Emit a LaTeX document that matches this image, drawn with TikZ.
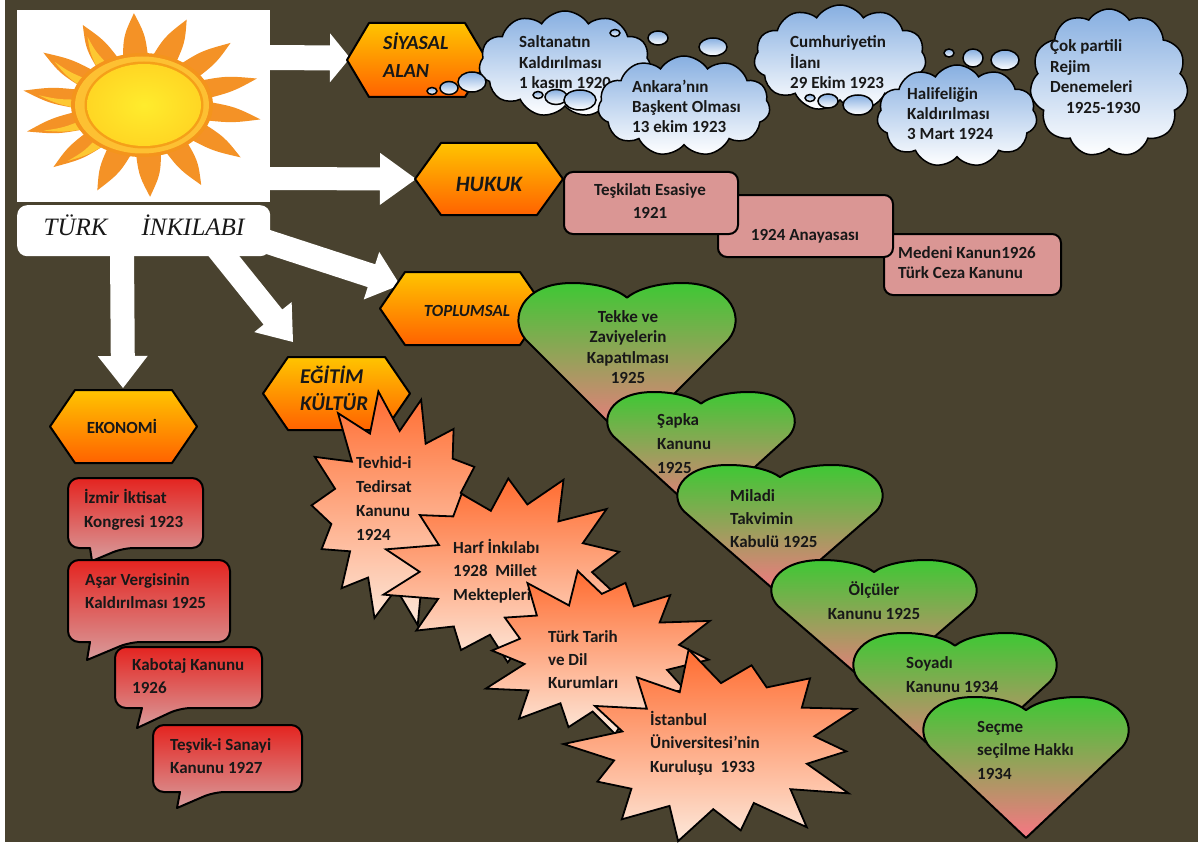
\documentclass[tikz,border=0pt]{standalone}
\usepackage{fontspec}
\setmainfont{Carlito}
\newfontfamily\titlef{Liberation Serif}
\usetikzlibrary{calc,shapes.symbols}

\definecolor{bgolive}{RGB}{73,66,47}
\definecolor{txt}{RGB}{24,24,24}
\definecolor{hexTop}{RGB}{255,196,0}
\definecolor{hexBot}{RGB}{255,98,0}
\definecolor{cloudTop}{RGB}{135,175,225}
\definecolor{lawPink}{RGB}{218,150,148}
\definecolor{heartTop}{RGB}{62,200,52}
\definecolor{heartBot}{RGB}{248,118,132}
\definecolor{starTop}{RGB}{255,108,48}
\definecolor{starBot}{RGB}{253,232,218}
\definecolor{econTop}{RGB}{228,36,32}
\definecolor{econBot}{RGB}{216,156,156}
\definecolor{rayOr}{RGB}{244,146,38}
\definecolor{rayYel}{RGB}{253,200,50}
\definecolor{sunRing}{RGB}{244,148,28}
\definecolor{sunBand}{RGB}{253,192,50}
\definecolor{sunLine}{RGB}{245,160,25}
\definecolor{sunCore}{RGB}{255,236,45}
\definecolor{sunEdge}{RGB}{255,178,20}

\pgfdeclareradialshading{sunglow}{\pgfpoint{0bp}{0bp}}{color(0bp)=(sunCore); color(30bp)=(sunCore!55!sunEdge); color(50bp)=(sunEdge)}

\tikzset{
  lbl/.style={font=\bfseries\fontsize{17}{#1}\selectfont, text=txt, inner sep=0pt, anchor=base west},
  lbl/.default=21,
  clb/.style={lbl=#1, anchor=base},
  clb/.default=21,
  hexstyle/.style={draw=black, line width=2pt, line join=round, top color=hexTop, bottom color=hexBot},
  cloudstyle/.style={cloud, cloud puffs=11, cloud puff arc=115, cloud ignores aspect, draw=black, line width=1.5pt, top color=cloudTop, bottom color=white, inner sep=0pt},
  puff/.style={draw=black, line width=1.5pt, top color=cloudTop, bottom color=white},
  lawbox/.style={draw=black, line width=2pt, rounded corners=9pt, fill=lawPink, inner sep=0pt, anchor=north west},
  heartstyle/.style={draw=black, line width=2pt, line join=round, top color=heartTop, bottom color=heartBot},
  starstyle/.style={draw=black, line width=1.8pt, line join=miter, miter limit=8, top color=starTop, bottom color=starBot},
  econstyle/.style={draw=black, line width=2pt, line join=round, top color=econTop, bottom color=econBot},
}

% multi-line text block, first baseline on the anchor
\newcommand{\ml}[2]{\begin{tabular}[t]{@{}#1@{}}#2\end{tabular}}

% white block arrow from #1 to #2: shaft half width, head half width, head length, name
\newcommand{\blockarrow}[6]{%
  \coordinate (#6h) at ($(#2)!#5pt!(#1)$);
  \fill[white] ($(#1)!#3pt!90:(#2)$) -- ($(#6h)!#3pt!-90:(#1)$) -- ($(#6h)!#4pt!-90:(#1)$)
     -- (#2) -- ($(#6h)!#4pt!90:(#1)$) -- ($(#6h)!#3pt!90:(#1)$) -- ($(#1)!#3pt!-90:(#2)$) -- cycle;}

% pointed hexagon: name, left, right, top, bottom, inset
\newcommand{\hexa}[6]{%
  \path[hexstyle] (#2,{(#4+#5)/2}) -- ({#2+#6},#4) -- ({#3-#6},#4) -- (#3,{(#4+#5)/2})
     -- ({#3-#6},#5) -- ({#2+#6},#5) -- cycle;
  \coordinate (#1) at ({(#2+#3)/2},{(#4+#5)/2});}

% heart: name, centre x, top y, half width, height
\newcommand{\heartat}[5]{%
  \begin{scope}[shift={(#2,#3)}, x=#4pt, y=-#5pt]
    \path[heartstyle] (0,1) -- (-0.923,0.357) .. controls (-1.077,0.229) and (-0.962,0) .. (-0.5,0)
      .. controls (-0.288,0) and (-0.096,0.036) .. (0,0.093)
      .. controls (0.096,0.036) and (0.288,0) .. (0.5,0)
      .. controls (0.962,0) and (1.077,0.229) .. (0.923,0.357) -- cycle;
    \coordinate (#1) at (0,0.5);
  \end{scope}}

% irregular fourteen-point burst: name, cx, cy, rx, ry, rotation, seed
\newcommand{\burst}[7]{%
  \begin{scope}[shift={(#2,#3)}]
    \path[starstyle] ({#6}:{#4*(1+0.09*sin(14*#7))} and {#5*(1+0.09*sin(14*#7))})
      \foreach \k [evaluate=\k as \ro using {1+0.09*sin(\k*#7)},
                   evaluate=\k as \ri using {0.7+0.05*sin(\k*#7*2.3+40)}] in {1,...,14}
        { -- ({#6+\k*360/14-180/14}:{#4*\ri} and {#5*\ri}) -- ({#6+\k*360/14}:{#4*\ro} and {#5*\ro}) } -- cycle;
    \coordinate (#1) at (0,0);
  \end{scope}}

% speech bubble: name, left, right, top, bottom, tail left, tail right, tip x, tip y
\newcommand{\speech}[9]{%
  \path[econstyle] ({(#2+#3)/2},#4) [rounded corners=11pt] -- (#3,#4) -- (#3,#5) -- (#7,#5)
     [sharp corners] -- (#8,#9) -- (#6,#5) [rounded corners=11pt] -- (#2,#5) -- (#2,#4) -- cycle;
  \coordinate (#1) at ({(#2+#3)/2},{(#4+#5)/2});}

\begin{document}
\begin{tikzpicture}[x=1pt,y=-1pt]
\useasboundingbox (0,0) rectangle (1198,845);
\fill[white] (0,0) rectangle (1198,845);
\fill[bgolive] (5,0) rectangle (1198,842);

% ---- block arrows out of the title panel
\coordinate (a1s) at (258,57.5);  \coordinate (a1e) at (350,58);
\coordinate (a2s) at (258,178.5); \coordinate (a2e) at (416,179);
\coordinate (a3s) at (262,240);   \coordinate (a3e) at (400,285);
\coordinate (a4s) at (215,245);   \coordinate (a4e) at (293,342);
\coordinate (a5s) at (122,250);   \coordinate (a5e) at (123,388);
\blockarrow{a1s}{a1e}{12.5}{24.5}{20}{a1}
\blockarrow{a2s}{a2e}{11.5}{26}{36}{a2}
\blockarrow{a3s}{a3e}{12}{25}{30}{a3}
\blockarrow{a4s}{a4e}{12}{24}{32}{a4}
\blockarrow{a5s}{a5e}{12}{25}{32}{a5}

% ---- sun panel
\node[fill=white, inner sep=0pt, minimum width=253pt, minimum height=192pt, anchor=north west] (sunbox) at (17,10) {};
\begin{scope}[shift={(142,105)}]
  \foreach \i in {0,...,13}{
    \pgfmathsetmacro\a{\i*360/14+6}
    \fill[rayOr] ({\a-13}:56 and 41) .. controls ({\a-5}:92 and 70) .. ({\a+3}:120 and 92)
       .. controls ({\a+9}:92 and 70) .. ({\a+14}:56 and 41) -- cycle;
  }
  \foreach \i in {5,...,9}{
    \pgfmathsetmacro\a{\i*360/14+6}
    \fill[rayYel] ({\a-12}:60 and 44) .. controls ({\a-5}:85 and 65) .. ({\a+1}:104 and 80)
       .. controls ({\a-1}:84 and 64) .. ({\a+1}:60 and 44) -- cycle;
  }
  \fill[sunRing] (0,0) ellipse [x radius=71pt, y radius=52pt];
  \fill[sunBand] (0,0) ellipse [x radius=67pt, y radius=48.5pt];
  \fill[sunLine] (2,0) ellipse [x radius=59.5pt, y radius=43.5pt];
  \shade[shading=sunglow] (2,0) ellipse [x radius=57pt, y radius=41pt];
\end{scope}

% ---- title panel
\node[fill=white, rounded corners=10pt, inner sep=0pt, minimum width=253pt, minimum height=51pt, anchor=north west] (titlebox) at (17,205) {};
\node[font=\titlef\itshape\fontsize{25}{28}\selectfont, text=txt, inner sep=0pt, anchor=base] (titletext) at (144,235) {TÜRK\hspace{34pt}İNKILABI};

% ---- category hexagons
\hexa{siy}{347}{487}{23}{97}{22}
\node[lbl, font=\bfseries\itshape\fontsize{20}{28}\selectfont] (siyt) at (383,50) {\ml{l}{SİYASAL\\ALAN}};
\hexa{huk}{415}{563}{143}{215}{26}
\node[lbl, anchor=base, font=\bfseries\itshape\fontsize{22}{26}\selectfont] (hukt) at (489,192) {HUKUK};
\hexa{top}{380}{545}{272}{345}{25}
\node[lbl, anchor=base, font=\bfseries\itshape\fontsize{17}{20}\selectfont] (topt) at (467,316) {TOPLUMSAL};
\hexa{egi}{263}{410}{357}{430}{25}
\node[lbl, font=\bfseries\itshape\fontsize{21}{27}\selectfont] (egit) at (300,383) {\ml{l}{EĞİTİM\\KÜLTÜR}};
\hexa{eko}{50}{197}{390}{463}{25}
\node[lbl, anchor=base, font=\bfseries\fontsize{17}{20}\selectfont] (ekot) at (122,433) {EKONOMİ};

% ---- political reforms: thought clouds
\node[cloudstyle, minimum width=172pt, minimum height=106pt] (c1) at (565,64) {};
\node[lbl=20.5] (c1t) at (519,48) {\ml{l}{Saltanatın\\Kaldırılması\\1 kasım 1920}};
\path[puff] (432,91) ellipse [x radius=5pt, y radius=3.5pt];
\path[puff] (449,88) ellipse [x radius=9pt, y radius=6.5pt];
\path[puff] (472,82) ellipse [x radius=14pt, y radius=10pt];
\path[puff] (538,95) ellipse [x radius=5pt, y radius=3.5pt];
\path[puff] (556,97) ellipse [x radius=11pt, y radius=7.5pt];
\path[puff] (580,100) ellipse [x radius=16pt, y radius=10pt];
\path[puff] (615,33) ellipse [x radius=5pt, y radius=3.5pt];
\path[puff] (658,38) ellipse [x radius=10pt, y radius=7pt];
\path[puff] (713,47) ellipse [x radius=14pt, y radius=9pt];

\node[cloudstyle, minimum width=172pt, minimum height=106pt] (c3) at (840,58) {};
\node[lbl=20] (c3t) at (790,48) {\ml{l}{Cumhuriyetin\\İlanı\\29 Ekim 1923}};
\path[puff] (810,98) ellipse [x radius=5pt, y radius=3.5pt];
\path[puff] (828,101) ellipse [x radius=10pt, y radius=7pt];
\path[puff] (858,105) ellipse [x radius=15pt, y radius=10pt];

\node[cloudstyle, minimum width=172pt, minimum height=100pt] (c2) at (684,106) {};
\node[lbl=20] (c2t) at (632,93) {\ml{l}{Ankara’nın\\Başkent Olması\\13 ekim 1923}};

\node[cloudstyle, minimum width=160pt, minimum height=102pt] (c4) at (957,116) {};
\node[lbl=20] (c4t) at (907,100) {\ml{l}{Halifeliğin\\Kaldırılması\\3 Mart 1924}};
\path[puff] (949,53) ellipse [x radius=5pt, y radius=4pt];
\path[puff] (973,58) ellipse [x radius=10pt, y radius=9pt];
\path[puff] (1005,60) ellipse [x radius=14pt, y radius=10pt];

\node[cloudstyle, minimum width=158pt, minimum height=148pt] (c5) at (1109,83) {};
\node[lbl=20.5] (c5t) at (1050,52) {\ml{l}{Çok partili\\Rejim\\Denemeleri\\\hspace*{16pt}1925-1930}};

% ---- law reforms
\node[lawbox, minimum width=177pt, minimum height=61pt] (law3) at (883,233) {};
\node[lawbox, minimum width=175pt, minimum height=62pt] (law2) at (717,194) {};
\node[lawbox, minimum width=174pt, minimum height=62pt] (law1) at (563,171) {};
\node[clb=23] (law1t) at (650,196) {\ml{c}{Teşkilatı Esasiye\\1921}};
\node[clb] (law2t) at (805,240) {1924 Anayasası};
\node[lbl=20] (law3t) at (898,258) {\ml{l}{Medeni Kanun1926\\Türk Ceza Kanunu}};

% ---- social reforms: hearts
\heartat{h1}{627}{283}{110}{158}
\node[clb=20.5] (h1t) at (628,322) {\ml{c}{Tekke ve\\Zaviyelerin\\Kapatılması\\1925}};
\heartat{h2}{701}{392}{95}{124}
\node[lbl=24] (h2t) at (657,425) {\ml{l}{Şapka\\Kanunu\\1925}};
\heartat{h3}{780}{465}{104}{130}
\node[lbl=23] (h3t) at (730,501) {\ml{l}{Miladi\\Takvimin\\Kabulü 1925}};
\heartat{h4}{874}{560}{104}{129}
\node[clb=24] (h4t) at (874,595) {\ml{c}{Ölçüler\\Kanunu 1925}};
\heartat{h5}{955}{633}{103}{136}
\node[lbl=24] (h5t) at (906,668) {\ml{l}{Soyadı\\Kanunu 1934}};
\heartat{h6}{1026}{697}{104}{141}
\node[lbl=23.5] (h6t) at (977,732) {\ml{l}{Seçme\\seçilme Hakkı\\1934}};

% ---- education reforms: bursts
\burst{s1}{398}{508}{92}{110}{27.2}{53}
\node[lbl=24] (s1t) at (356,468) {\ml{l}{Tevhid-i\\Tedirsat\\Kanunu\\1924}};
\burst{s2}{508}{572}{118}{95}{13}{71}
\node[lbl=23.5] (s2t) at (453,553) {\ml{l}{Harf İnkılabı\\1928\ \ Millet\\Mektepleri}};
\burst{s3}{597}{655}{112}{82}{29}{97}
\node[lbl=23] (s3t) at (548,642) {\ml{l}{Türk Tarih\\ve Dil\\Kurumları}};
\burst{s4}{717}{748}{142}{92}{28}{131}
\node[lbl=23.5] (s4t) at (650,725) {\ml{l}{İstanbul\\Üniversitesi’nin\\Kuruluşu\ \ 1933}};

% ---- economic reforms: speech bubbles
\speech{e1}{68}{203}{478}{548}{90}{123}{92}{561}
\node[lbl=24] (e1t) at (84,503) {\ml{l}{İzmir İktisat\\Kongresi 1923}};
\speech{e2}{68}{230}{560}{642}{90}{130}{87}{660}
\node[lbl=23.5] (e2t) at (85,585) {\ml{l}{Aşar Vergisinin\\Kaldırılması 1925}};
\speech{e3}{115}{262}{647}{708}{142}{180}{137}{728}
\node[lbl=23.5] (e3t) at (132,670) {\ml{l}{Kabotaj Kanunu\\1926}};
\speech{e4}{153}{302}{725}{792}{180}{214}{177}{808}
\node[lbl=23.5] (e4t) at (170,750) {\ml{l}{Teşvik-i Sanayi\\Kanunu 1927}};
\end{tikzpicture}
\end{document}
